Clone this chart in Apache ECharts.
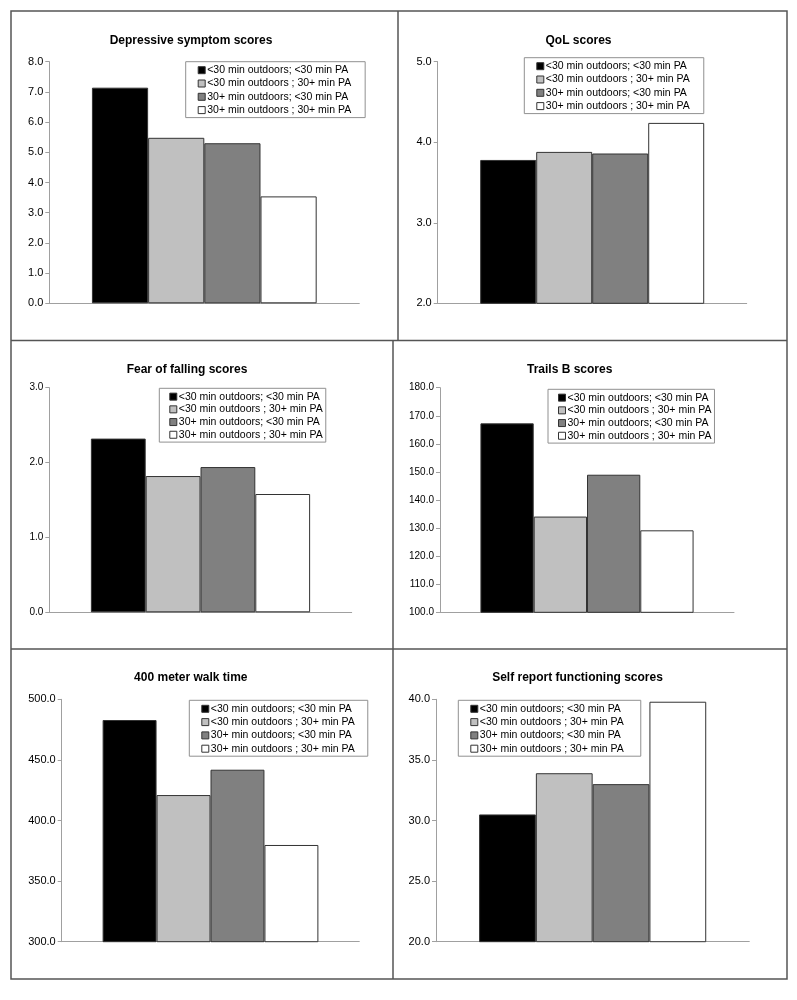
<!DOCTYPE html>
<html>
<head>
<meta charset="utf-8">
<script src="https://cdn.jsdelivr.net/npm/echarts@6/dist/echarts.min.js"></script>
<style>
html,body{margin:0;padding:0;background:#fff;}
#chart{width:797px;height:1000px;}
</style>
</head>
<body>
<div id="chart"></div>
<script>
// ---- data ----
var groups = [
  '<30 min outdoors; <30 min PA',
  '<30 min outdoors ; 30+ min PA',
  '30+ min outdoors; <30 min PA',
  '30+ min outdoors ; 30+ min PA'
];
var panelTitles = [
  'Depressive symptom scores',
  'QoL scores',
  'Fear of falling scores',
  'Trails B scores',
  '400 meter walk time',
  'Self report functioning scores'
];
var depressive = [7.14, 5.48, 5.30, 3.54];
var qol = [3.78, 3.88, 3.86, 4.24];
var fearFalling = [2.32, 1.82, 1.94, 1.58];
var trailsB = [167.3, 134.1, 149.0, 129.2];
var walk400 = [482.9, 421.0, 441.9, 379.8];
var selfReport = [30.5, 33.9, 33.0, 39.8];
var panelValues = [depressive, qol, fearFalling, trailsB, walk400, selfReport];
var axisMin = [0, 2, 0, 100, 300, 20];
var axisMax = [8, 5, 3, 180, 500, 40];
var axisStep = [1, 1, 1, 10, 50, 5];

// ---- layout / style ----
var colors = ['#000000', '#c0c0c0', '#808080', '#ffffff'];
var grids = [
  {left: 49.3, top: 61.7, width: 310, height: 241.6},
  {left: 437.7, top: 61.7, width: 309, height: 241.6},
  {left: 49.3, top: 387.7, width: 302.4, height: 224.6},
  {left: 440, top: 387.7, width: 294, height: 224.6},
  {left: 61.7, top: 699.3, width: 297.6, height: 242.4},
  {left: 436, top: 699.3, width: 313.3, height: 242.4}
];
var titlePos = [[186, 30], [573.5, 30], [182, 359], [564.7, 359], [185.8, 667], [572.5, 667]];
var legendPos = [[185.7, 61.7], [524.3, 57.7], [159.3, 388.3], [548, 389.3], [189.3, 700.3], [458.3, 700.3]];
var legendPadRight = [14, 14, 3, 3, 13, 17];
var tickFont = [11, 11, 10, 10, 11, 11];
var FONT = '"Liberation Sans", Arial, sans-serif';

var option = {
  backgroundColor: '#fff',
  animation: false,
  title: [], legend: [], grid: [], xAxis: [], yAxis: [], series: [],
  graphic: []
};

for (var p = 0; p < 6; p++) {
  option.grid.push(grids[p]);
  option.title.push({
    text: panelTitles[p],
    left: titlePos[p][0], top: titlePos[p][1],
    textAlign: 'center',
    textStyle: {fontFamily: FONT, fontSize: 12, fontWeight: 'bold', color: '#000'}
  });
  var small = (p === 2 || p === 3);
  option.legend.push({
    data: groups.slice(),
    orient: 'vertical',
    left: legendPos[p][0], top: legendPos[p][1],
    icon: 'rect',
    itemWidth: 7, itemHeight: 7,
    itemGap: small ? 0 : 0.3,
    padding: [2, legendPadRight[p], 1, small ? 10 : 12],
    borderColor: '#909090', borderWidth: 1,
    backgroundColor: '#fff',
    selectedMode: false,
    itemStyle: {borderColor: '#333', borderWidth: 1},
    textStyle: {fontFamily: FONT, fontSize: 10.5, color: '#000', lineHeight: small ? 12.7 : 13, padding: [0, 0, 0, -3]}
  });
  option.xAxis.push({
    type: 'category', gridIndex: p, data: [''],
    axisLine: {show: true, lineStyle: {color: '#a0a0a0', width: 1}},
    axisTick: {show: false}, axisLabel: {show: false}, splitLine: {show: false}
  });
  option.yAxis.push({
    type: 'value', gridIndex: p,
    min: axisMin[p], max: axisMax[p], interval: axisStep[p],
    axisLine: {show: true, lineStyle: {color: '#a0a0a0', width: 1}},
    axisTick: {show: true, inside: false, length: 4, lineStyle: {color: '#a0a0a0'}},
    splitLine: {show: false},
    axisLabel: {
      margin: 6, fontFamily: FONT, fontSize: tickFont[p], color: '#000',
      formatter: function (v) { return v.toFixed(1); }
    }
  });
  for (var s = 0; s < 4; s++) {
    option.series.push({
      type: 'bar', name: groups[s],
      xAxisIndex: p, yAxisIndex: p,
      data: [panelValues[p][s]],
      barGap: '0%', barCategoryGap: '27.5%',
      itemStyle: {color: colors[s], borderColor: '#333', borderWidth: 1},
      emphasis: {disabled: true}
    });
  }
}

// panel frames
var frameStyle = {stroke: '#555', lineWidth: 1.5, fill: null};
option.graphic = [
  {type: 'rect', shape: {x: 11, y: 11, width: 776, height: 968}, style: frameStyle, silent: true},
  {type: 'line', shape: {x1: 11, y1: 340.5, x2: 787, y2: 340.5}, style: frameStyle, silent: true},
  {type: 'line', shape: {x1: 11, y1: 649, x2: 787, y2: 649}, style: frameStyle, silent: true},
  {type: 'line', shape: {x1: 398, y1: 11, x2: 398, y2: 340.5}, style: frameStyle, silent: true},
  {type: 'line', shape: {x1: 393, y1: 340.5, x2: 393, y2: 979}, style: frameStyle, silent: true}
];

var chart = echarts.init(document.getElementById('chart'), null, {renderer: 'canvas'});
chart.setOption(option);
</script>
</body>
</html>
